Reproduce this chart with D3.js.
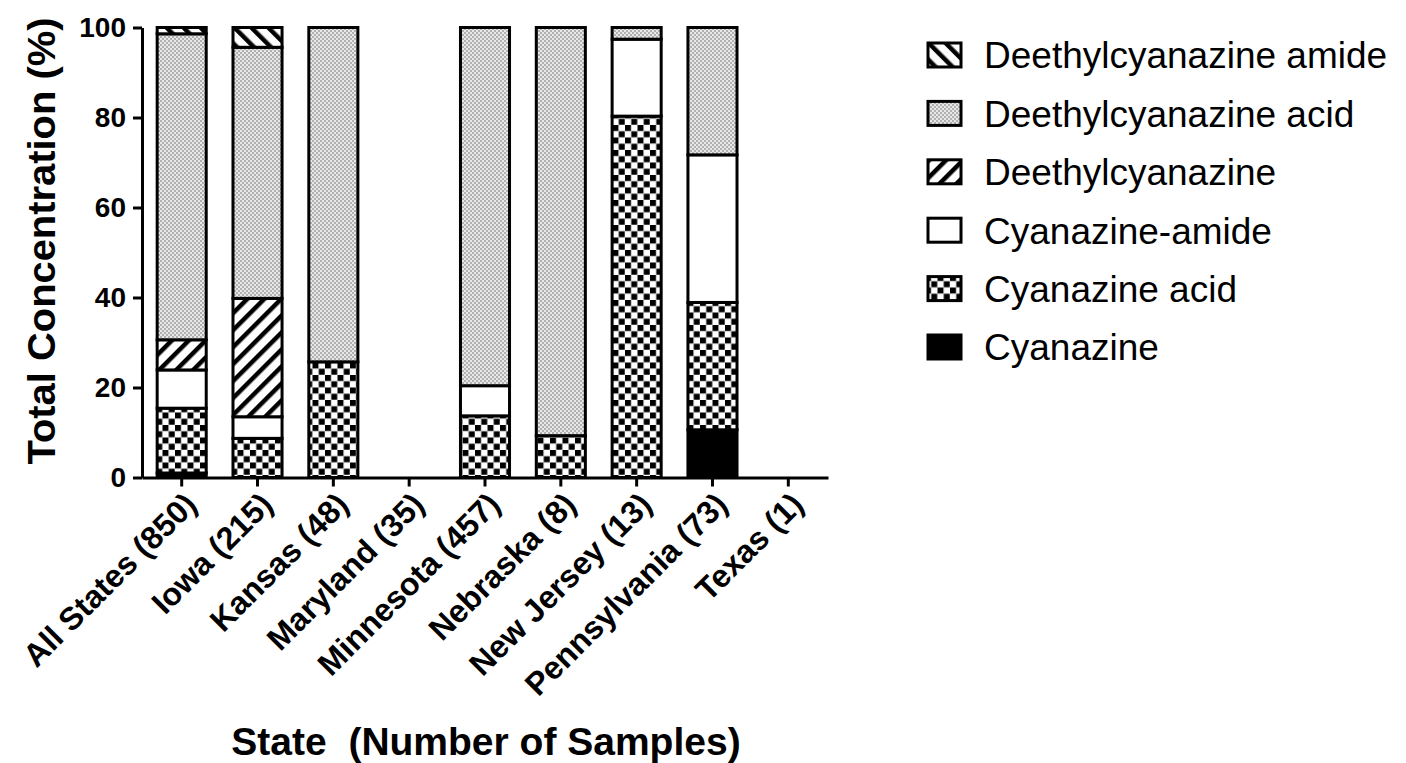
<!DOCTYPE html>
<html>
<head>
<meta charset="utf-8">
<script src="https://cdn.jsdelivr.net/npm/d3@7"></script>
<style>
  html, body { margin: 0; padding: 0; background: #fff; }
  svg { display: block; }
  text { font-family: "Liberation Sans", Arial, sans-serif; }
</style>
</head>
<body>
<svg id="chart" width="1406" height="763"></svg>
<script>
// ---- DATA ----
const categories = ["All States (850)", "Iowa (215)", "Kansas (48)", "Maryland (35)", "Minnesota (457)",
                    "Nebraska (8)", "New Jersey (13)", "Pennsylvania (73)", "Texas (1)"];
// stacking order: bottom -> top
const seriesNames = ["Cyanazine", "Cyanazine acid", "Cyanazine-amide", "Deethylcyanazine",
                     "Deethylcyanazine acid", "Deethylcyanazine amide"];
const cyanazine            = [1.0, 0,    0,    0, 0,    0,    0,    10.6, 0];
const cyanazineAcid        = [14.4, 8.7, 25.7, 0, 13.7, 9.3,  80.3, 28.3, 0];
const cyanazineAmide       = [8.5, 4.8,  0,    0, 6.7,  0,    17.1, 32.8, 0];
const deethylcyanazine     = [6.7, 26.3, 0,    0, 0,    0,    0,    0,    0];
const deethylcyanazineAcid = [68.0, 55.8, 74.3, 0, 79.6, 90.7, 2.6,  28.3, 0];
const deethylcyanazineAmide= [1.4, 4.4,  0,    0, 0,    0,    0,    0,    0];
const yTicks = [0, 20, 40, 60, 80, 100];
const legendOrder = ["Deethylcyanazine amide", "Deethylcyanazine acid", "Deethylcyanazine",
                     "Cyanazine-amide", "Cyanazine acid", "Cyanazine"];

const seriesValues = [cyanazine, cyanazineAcid, cyanazineAmide, deethylcyanazine,
                      deethylcyanazineAcid, deethylcyanazineAmide];
const table = categories.map((c, i) => {
  const row = { cat: c };
  seriesNames.forEach((s, j) => row[s] = seriesValues[j][i]);
  return row;
});

// ---- SETUP ----
const svg = d3.select("#chart");
const defs = svg.append("defs");

// gray fine checker
const pg = defs.append("pattern").attr("id", "p-gray").attr("patternUnits", "userSpaceOnUse")
  .attr("width", 4).attr("height", 4);
pg.append("rect").attr("width", 4).attr("height", 4).attr("fill", "#e8e8e8");
pg.append("rect").attr("width", 2).attr("height", 2).attr("fill", "#b0b0b0");
pg.append("rect").attr("x", 2).attr("y", 2).attr("width", 2).attr("height", 2).attr("fill", "#b0b0b0");

// black/white checker
const pc = defs.append("pattern").attr("id", "p-check").attr("patternUnits", "userSpaceOnUse")
  .attr("width", 12.5).attr("height", 12.5);
pc.append("rect").attr("width", 12.5).attr("height", 12.5).attr("fill", "#fff");
pc.append("rect").attr("x", 0).attr("y", 0).attr("width", 6).attr("height", 6).attr("fill", "#000");
pc.append("rect").attr("x", 6.25).attr("y", 6.25).attr("width", 6).attr("height", 6).attr("fill", "#000");

function hatch(id, angle) {
  const p = defs.append("pattern").attr("id", id).attr("patternUnits", "userSpaceOnUse")
    .attr("width", 12).attr("height", 12).attr("patternTransform", `rotate(${angle})`);
  p.append("rect").attr("width", 12).attr("height", 12).attr("fill", "#fff");
  p.append("rect").attr("x", 0).attr("y", 0).attr("width", 4.5).attr("height", 12).attr("fill", "#000");
}
hatch("p-fwd", 45);
hatch("p-back", -45);

const fills = {
  "Cyanazine": "#000",
  "Cyanazine acid": "url(#p-check)",
  "Cyanazine-amide": "#fff",
  "Deethylcyanazine": "url(#p-fwd)",
  "Deethylcyanazine acid": "url(#p-gray)",
  "Deethylcyanazine amide": "url(#p-back)"
};

const x = d3.scaleBand().domain(categories).range([142, 828]).paddingInner(0.353).paddingOuter(0.2);
const y = d3.scaleLinear().domain([0, 100]).range([477.5, 27.5]);

const stack = d3.stack().keys(seriesNames);
const stacked = stack(table);

// ---- BARS ----
const gBars = svg.append("g");
stacked.forEach(layer => {
  gBars.selectAll(null)
    .data(layer.filter(d => d[1] - d[0] > 0))
    .enter().append("rect")
    .attr("x", d => x(d.data.cat))
    .attr("width", x.bandwidth())
    .attr("y", d => y(d[1]))
    .attr("height", d => y(d[0]) - y(d[1]))
    .attr("fill", fills[layer.key])
    .attr("stroke", "#000")
    .attr("stroke-width", 3);
});

// ---- AXES ----
const yAxis = svg.append("g").attr("transform", "translate(142,0)")
  .call(d3.axisLeft(y).tickValues(yTicks).tickSize(9).tickSizeOuter(0).tickPadding(7));
yAxis.select(".domain").attr("stroke-width", 3);
yAxis.selectAll(".tick line").attr("stroke-width", 3);
yAxis.selectAll(".tick text").attr("font-size", 28).attr("font-weight", "bold")
  .attr("font-family", "Liberation Sans, Arial, sans-serif").attr("fill", "#000");

const xAxis = svg.append("g").attr("transform", "translate(0,477.5)")
  .call(d3.axisBottom(x).tickSize(9).tickSizeOuter(0));
xAxis.select(".domain").attr("stroke-width", 3);
xAxis.selectAll(".tick line").attr("stroke-width", 3);
xAxis.selectAll(".tick text")
  .attr("font-size", 32).attr("font-weight", "bold")
  .attr("font-family", "Liberation Sans, Arial, sans-serif").attr("fill", "#000")
  .attr("x", 0).attr("y", 0).attr("dy", "0.35em")
  .attr("text-anchor", "end")
  .attr("transform", "translate(9,21) rotate(-45)");

// ---- AXIS TITLES ----
svg.append("text")
  .attr("transform", "translate(55,241) rotate(-90) scale(1.05,1)")
  .attr("text-anchor", "middle")
  .attr("font-size", 38).attr("font-weight", "bold")
  .text("Total Concentration (%)");

svg.append("text")
  .attr("x", 486).attr("y", 755)
  .attr("text-anchor", "middle")
  .attr("font-size", 39).attr("font-weight", "bold")
  .attr("xml:space", "preserve").style("white-space", "pre")
  .text("State  (Number of Samples)");

// ---- LEGEND ----
const legend = svg.append("g");
const rowY = d3.scalePoint().domain(legendOrder).range([55, 347]);
legendOrder.forEach(name => {
  const cy = rowY(name);
  legend.append("rect")
    .attr("x", 928).attr("y", cy - 12).attr("width", 33).attr("height", 24)
    .attr("fill", fills[name]).attr("stroke", "#000").attr("stroke-width", 3);
  legend.append("text")
    .attr("x", 984).attr("y", cy).attr("dy", "0.36em")
    .attr("font-size", 37)
    .text(name);
});
</script>
</body>
</html>
